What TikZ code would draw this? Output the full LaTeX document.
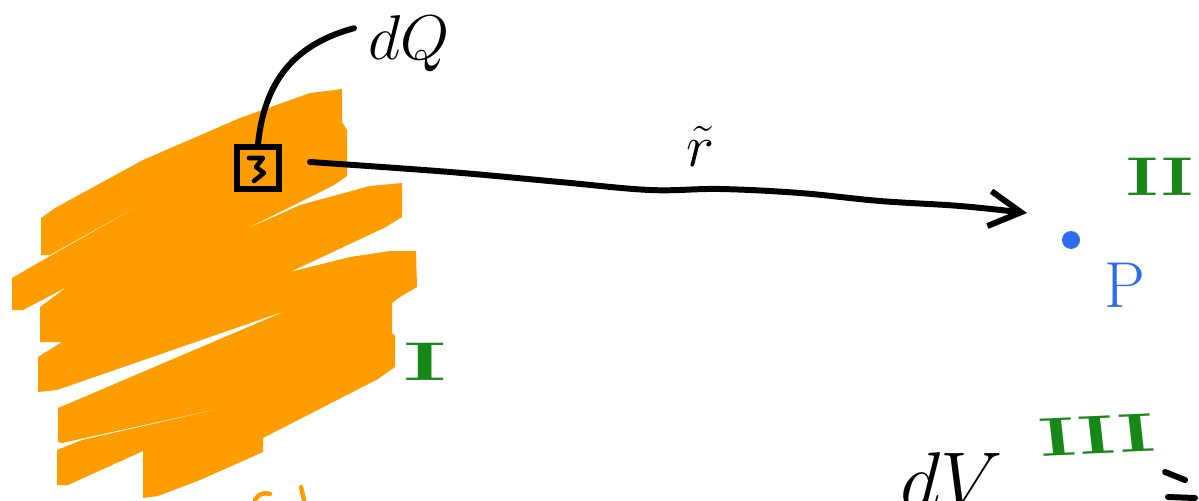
\RequirePackage{fix-cm}
\documentclass[tikz,border=0pt]{standalone}
\usepackage{tikz}
\usetikzlibrary{arrows.meta,positioning}
\definecolor{paint}{HTML}{FF9D00}
\definecolor{greenink}{HTML}{178717}
\definecolor{ptblue}{HTML}{2F6BF0}

\begin{document}
\begin{tikzpicture}[x=0.02cm,y=-0.02cm,
    ink/.style={line width=3.4pt,line cap=round,line join=round},
    roman/.style={text=greenink,font=\fontsize{31}{34}\selectfont\bfseries,inner sep=0pt}]
  \useasboundingbox (0,0) rectangle (1199,500);
  \clip (0,0) rectangle (1199,500);
  % charged body, scribbled
  \fill[paint] (41,218) -- (55,208) -- (143,160) -- (240,118) -- (310,93) -- (342,89)
    -- (342,122) -- (347,130) -- (347,176) -- (334,185) -- (240,232)
    -- (300,205) -- (370,186) -- (402,183) -- (402,217) -- (384,228) -- (290,272)
    -- (350,257) -- (390,251) -- (416,251) -- (417,287) -- (400,297) -- (392,303)
    -- (392,333) -- (395,336) -- (395,367) -- (378,379) -- (263,438) -- (263,452)
    -- (200,480) -- (158,496) -- (143,498) -- (143,462) -- (143,451) -- (68,485)
    -- (57,485) -- (57,450) -- (82,440) -- (267,398) -- (62,443) -- (58,442)
    -- (58,408) -- (77,400) -- (288,310) -- (57,390) -- (38,392) -- (38,357)
    -- (62,342) -- (40,342) -- (40,307) -- (67,287) -- (23,310) -- (12,310)
    -- (12,278) -- (45,259) -- (193,175) -- (50,255) -- (41,255) -- cycle;
  \draw[ink,paint,line width=2.5pt] (255,500) .. controls (258,494) and (264,492) .. (270,494);
  \draw[ink,paint,line width=2.5pt] (301,487) -- (304,500);
  % volume element and its charge
  \node[draw,line width=3.2pt,minimum size=0.84cm,inner sep=0pt] (elem) at (258,168) {};
  \draw[ink,line width=2.6pt] (249,158) -- (263,158) -- (256,167) -- (264,173) -- (254,181);
  \node[anchor=base west,inner sep=0pt,font=\fontsize{36}{40}\selectfont] (dq) at (368,60) {$dQ$};
  \draw[ink] (dq.west) ++(-14,-16) coordinate (dqtail);
  \draw[ink] (dqtail) .. controls (300,43) and (265,75) .. (elem.north);
  % separation vector
  \coordinate (tail) at (310,162);
  \coordinate (tip) at (1027,213);
  \draw[ink,-{Straight Barb[length=18pt,width=20pt]}] plot[smooth,tension=0.6] coordinates
    {(tail) (450,172) (560,182) (650,190) (720,189) (800,193) (880,201) (960,206) (tip)};
  \node[anchor=base west,inner sep=0pt,font=\fontsize{34}{37}\selectfont] (rvec) at (686,166) {$\tilde{r}$};
  % field point
  \node[circle,fill=ptblue,minimum size=0.36cm,inner sep=0pt] (pt) at (1071,240) {};
  \node[text=ptblue,font=\fontsize{37}{40}\selectfont,inner sep=0pt] (plabel) at (1125,285) {P};
  % regions
  \node[roman,xscale=1.9] (one) at (425,362) {I};
  \node[roman,xscale=1.4] (two) at (1160,177) {II};
  \node[roman,xscale=1.6,rotate=4] (three) at (1097,435) {III};
  % cut off at the bottom
  \node[anchor=base west,inner sep=0pt,font=\fontsize{45}{50}\selectfont] (dv) at (900,507) {$dV$};
  \draw[ink] (1165,472) -- (1185,480);
  \draw[ink] (1168,497) -- (1195,498);
\end{tikzpicture}
\end{document}
